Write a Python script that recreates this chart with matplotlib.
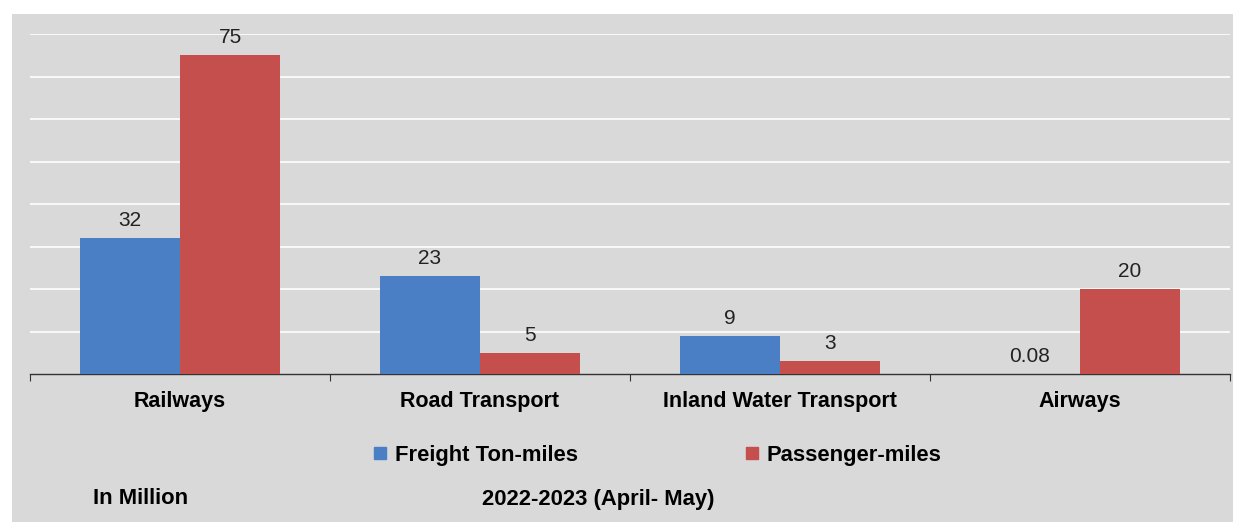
import matplotlib
matplotlib.use("Agg")
import matplotlib.pyplot as plt
from matplotlib.lines import Line2D
from matplotlib.patches import Rectangle
import numpy as np

plt.rcParams["font.family"] = ["Liberation Sans", "DejaVu Sans"]

categories = ["Railways", "Road Transport", "Inland Water Transport", "Airways"]
freight = [32, 23, 9, 0.08]
passenger = [75, 5, 3, 20]
freight_labels = ["32", "23", "9", "0.08"]
passenger_labels = ["75", "5", "3", "20"]

BLUE = "#4a7fc6"
RED = "#c44f4c"
BG = "#d9d9d9"

fig = plt.figure(figsize=(12.33, 5.22), dpi=100)
fig.patch.set_facecolor("white")
# grey chart area
fig.patches.append(Rectangle((12 / 1233, 0), 1 - 12 / 1233, 1 - 14 / 522,
                             transform=fig.transFigure, facecolor=BG,
                             edgecolor="none", zorder=-10))

ax = fig.add_axes([30 / 1233, 1 - 374 / 522, 1200 / 1233, 340 / 522])
ax.set_facecolor("none")

x = np.arange(len(categories))
w = 1 / 3
ax.bar(x - w / 2, freight, w, color=BLUE, zorder=3)
ax.bar(x + w / 2, passenger, w, color=RED, zorder=3)

for xi, v, s in zip(x, freight, freight_labels):
    ax.text(xi - w / 2, v + 1.9, s, ha="center", va="bottom", fontsize=15, color="#222222")
for xi, v, s in zip(x, passenger, passenger_labels):
    ax.text(xi + w / 2, v + 1.9, s, ha="center", va="bottom", fontsize=15, color="#222222")

ax.set_xlim(-0.5, len(categories) - 0.5)
ax.set_ylim(0, 80)
ax.set_yticks(np.arange(10, 81, 10))
ax.yaxis.grid(True, color="white", linewidth=1.2, zorder=1)
ax.tick_params(axis="y", left=False, labelleft=False)

ax.set_xticks(np.arange(-0.5, len(categories), 1), minor=False)
ax.set_xticklabels([])
ax.set_xticks(x, minor=True)
ax.set_xticklabels(categories, minor=True, fontsize=15.5, fontweight="bold")
ax.tick_params(axis="x", which="major", length=5, direction="out", color="#333333")
ax.tick_params(axis="x", which="minor", length=0, pad=12)

for side in ["top", "right", "left"]:
    ax.spines[side].set_visible(False)
ax.spines["bottom"].set_color("#333333")
ax.spines["bottom"].set_linewidth(1)

handles = [Line2D([], [], marker="s", linestyle="none", markersize=8, color=BLUE),
           Line2D([], [], marker="s", linestyle="none", markersize=8, color=RED)]
fig.legend(handles, ["Freight Ton-miles", "Passenger-miles"], ncol=2,
           loc="center", bbox_to_anchor=(657 / 1233, 1 - 455 / 522),
           frameon=False, prop={"size": 15.8, "weight": "bold"},
           handletextpad=0.3, columnspacing=7.6, handlelength=0.7)

fig.text(93 / 1233, 1 - 499 / 522, "In Million", fontsize=15.8, fontweight="bold",
         ha="left", va="center")
fig.text(598 / 1233, 1 - 499 / 522, "2022-2023 (April- May)", fontsize=15.8,
         fontweight="bold", ha="center", va="center")

fig.savefig("out.png", dpi=100, facecolor=fig.get_facecolor())
